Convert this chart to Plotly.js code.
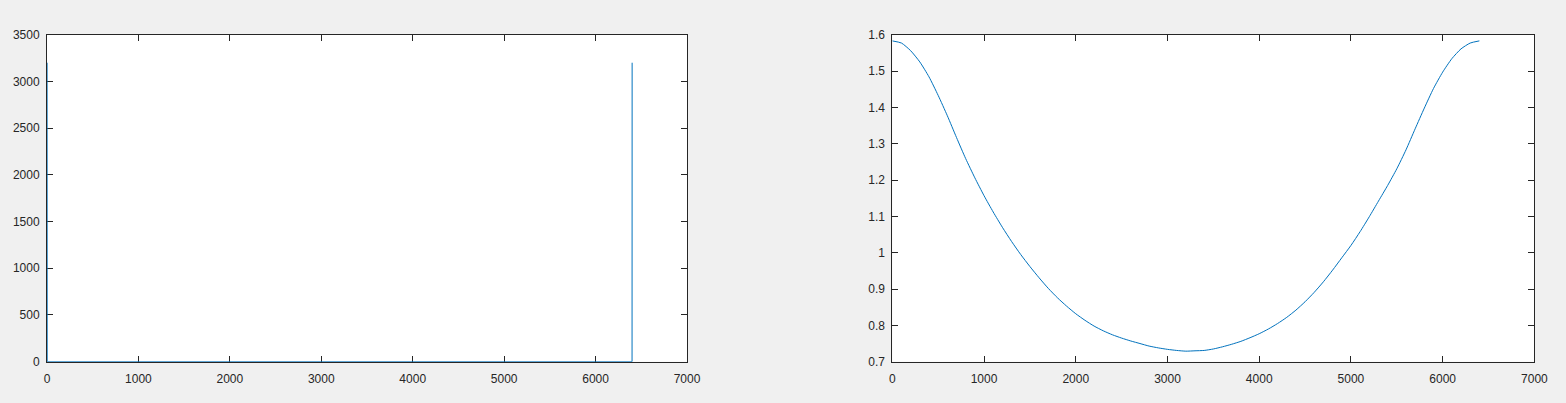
<!DOCTYPE html>
<html>
<head>
<meta charset="utf-8">
<script src="https://cdn.plot.ly/plotly-3.0.1.min.js"></script>
<style>
html,body{margin:0;padding:0;background:#f0f0f0;}
#chart{width:1566px;height:403px;}
</style>
</head>
<body>
<div id="chart"></div>
<script>
// Left subplot: spectrum magnitude (spikes at both ends, ~0 elsewhere)
var specX = [1, 2, 6399, 6400];
var specY = [3200, 0, 0, 3200];

// Right subplot: smooth curve, sampled every 100
var curveX = [0, 100, 200, 300, 400, 500, 600, 700, 800, 900, 1000, 1100, 1200, 1300, 1400, 1500, 1600,
              1700, 1800, 1900, 2000, 2100, 2200, 2300, 2400, 2500, 2600, 2700, 2800, 2900, 3000, 3100, 3200,
              3300, 3400, 3500, 3600, 3700, 3800, 3900, 4000, 4100, 4200, 4300, 4400, 4500, 4600, 4700, 4800,
              4900, 5000, 5100, 5200, 5300, 5400, 5500, 5600, 5700, 5800, 5900, 6000, 6100, 6200, 6300, 6400];
var curveY = [1.583, 1.577, 1.556, 1.525, 1.484, 1.433, 1.377, 1.317, 1.259, 1.206, 1.157, 1.112, 1.070, 1.031, 0.995, 0.962, 0.931,
              0.902, 0.876, 0.853, 0.832, 0.814, 0.798, 0.785, 0.774, 0.765, 0.757, 0.750, 0.743, 0.738, 0.734, 0.731, 0.729,
              0.730, 0.731, 0.735, 0.741, 0.748, 0.756, 0.766, 0.777, 0.790, 0.805, 0.822, 0.842, 0.865, 0.891, 0.920, 0.952,
              0.986, 1.020, 1.058, 1.099, 1.142, 1.185, 1.231, 1.283, 1.341, 1.398, 1.452, 1.497, 1.534, 1.561, 1.577, 1.583];

var xTicks = [0, 1000, 2000, 3000, 4000, 5000, 6000, 7000];

var lineColor = '#0072BD';
var axCol = '#262626';

function axisBase(extra) {
  var a = {
    showgrid: false, zeroline: false,
    showline: true, linecolor: axCol, linewidth: 1,
    mirror: 'ticks', ticks: 'inside', ticklen: 6, tickwidth: 1, tickcolor: axCol,
    tickfont: {family: 'Liberation Sans, Arial, sans-serif', size: 12, color: axCol},
    fixedrange: true, automargin: false
  };
  for (var k in extra) a[k] = extra[k];
  return a;
}

var traces = [
  {x: specX, y: specY, type: 'scatter', mode: 'lines', xaxis: 'x', yaxis: 'y', cliponaxis: false,
   line: {color: lineColor, width: 1}, hoverinfo: 'none'},
  {x: curveX, y: curveY, type: 'scatter', mode: 'lines', xaxis: 'x2', yaxis: 'y2',
   line: {color: lineColor, width: 1, shape: 'spline', smoothing: 0.6}, hoverinfo: 'none'}
];

var yDom = [1 - 361.7/403, 1 - 34.7/403];

var layout = {
  width: 1566, height: 403,
  paper_bgcolor: '#f0f0f0', plot_bgcolor: '#ffffff',
  margin: {l: 0, r: 0, t: 0, b: 0},
  showlegend: false,
  xaxis: axisBase({domain: [47/1566, 687/1566], range: [0, 7000], tickvals: xTicks, anchor: 'y', ticklabelstandoff: 6, layer: 'below traces'}),
  yaxis: axisBase({domain: yDom, range: [0, 3500], dtick: 500, tick0: 0, anchor: 'x', ticklabelstandoff: 4, layer: 'below traces'}),
  xaxis2: axisBase({domain: [892.3/1566, 1534.4/1566], range: [0, 7000], tickvals: xTicks, anchor: 'y2', ticklabelstandoff: 6}),
  yaxis2: axisBase({domain: yDom, range: [0.7, 1.6], dtick: 0.1, tick0: 0.7, anchor: 'x2', ticklabelstandoff: 4})
};

Plotly.newPlot('chart', traces, layout, {displayModeBar: false, staticPlot: true});
</script>
</body>
</html>
